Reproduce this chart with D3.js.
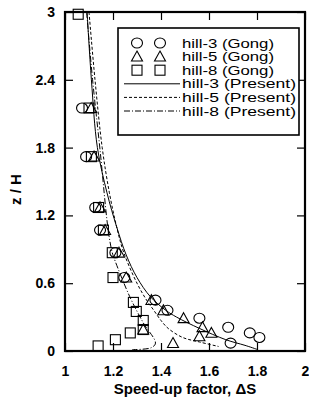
<!DOCTYPE html>
<html><head><meta charset="utf-8">
<script src="https://cdn.jsdelivr.net/npm/d3@7"></script>
<style>body{margin:0;background:#fff}svg{display:block}</style>
</head><body>
<script>
// Gong experimental data [speed-up, z/H]
const hill3Gong = [[1.071,2.15],[1.088,1.72],[1.126,1.27],[1.146,1.07],[1.21,0.87],[1.247,0.65],[1.377,0.45],[1.427,0.36],[1.56,0.29],[1.68,0.21],[1.69,0.07],[1.77,0.16],[1.81,0.12]];
const hill5Gong = [[1.109,2.15],[1.121,1.72],[1.146,1.27],[1.167,1.07],[1.225,0.87],[1.255,0.65],[1.36,0.45],[1.41,0.36],[1.494,0.29],[1.573,0.21],[1.61,0.16],[1.56,0.13],[1.45,0.07],[1.326,0.19]];
const hill8Gong = [[1.055,2.98],[1.10,2.15],[1.11,1.72],[1.14,1.27],[1.16,1.07],[1.197,0.87],[1.20,0.65],[1.285,0.43],[1.297,0.35],[1.326,0.27],[1.326,0.19],[1.272,0.16],[1.21,0.10],[1.138,0.045]];
// Present computations
const hill3Present = [[1.092,3],[1.11,2.4],[1.135,1.8],[1.175,1.4],[1.215,1.1],[1.255,0.85],[1.30,0.65],[1.356,0.48],[1.42,0.36],[1.465,0.3],[1.56,0.2],[1.67,0.1],[1.75,0.05],[1.80,0.015]];
const hill5Present = [[1.10,3],[1.125,2.4],[1.155,1.8],[1.185,1.4],[1.215,1.1],[1.245,0.87],[1.30,0.6],[1.34,0.45],[1.37,0.36],[1.40,0.27],[1.43,0.2],[1.49,0.12],[1.56,0.08],[1.64,0.04]];
const hill8Present = [[1.09,3],[1.115,2.4],[1.146,1.78],[1.18,1.07],[1.197,0.87],[1.21,0.79],[1.27,0.48],[1.326,0.25],[1.377,0.07],[1.36,0.03],[1.28,0.012]];
const xTicks = [1,1.2,1.4,1.6,1.8,2];
const xTickLabels = ["1","1.2","1.4","1.6","1.8","2"];
const yTicks = [0,0.6,1.2,1.8,2.4,3];
const yTickLabels = ["0","0.6","1.2","1.8","2.4","3"];
const legendLabels = ["hill-3 (Gong)","hill-5 (Gong)","hill-8 (Gong)","hill-3 (Present)","hill-5 (Present)","hill-8 (Present)"];

const W=309,H=398;
const m={l:65,r:4,t:12,b:47};
const svg=d3.select("body").append("svg").attr("width",W).attr("height",H);
const x=d3.scaleLinear().domain([1,2]).range([m.l,W-m.r]);
const y=d3.scaleLinear().domain([0,3]).range([H-m.b,m.t]);
const font="Liberation Sans, Arial, sans-serif";

svg.append("clipPath").attr("id","c").append("rect")
  .attr("x",x(1)).attr("y",y(3)).attr("width",x(2)-x(1)).attr("height",y(0)-y(3));

// lines
const line=d3.line().x(d=>x(d[0])).y(d=>y(d[1])).curve(d3.curveCatmullRom.alpha(0.5));
const g=svg.append("g").attr("clip-path","url(#c)");
const lineStyles=[
  {data:hill3Present,dash:null},
  {data:hill5Present,dash:"3,2"},
  {data:hill8Present,dash:"6,2,1,2"}];
lineStyles.forEach(s=>{
  g.append("path").attr("d",line(s.data)).attr("fill","none").attr("stroke","#000")
   .attr("stroke-width",1).attr("stroke-dasharray",s.dash);
});

// markers
function circ(sel,cx,cy){sel.append("ellipse").attr("cx",cx).attr("cy",cy).attr("rx",5.5).attr("ry",5).attr("fill","none").attr("stroke","#000").attr("stroke-width",1.1);}
function tri(sel,cx,cy){const s=5.5;sel.append("path").attr("d",`M${cx},${cy-s}L${cx+s},${cy+s*0.8}L${cx-s},${cy+s*0.8}Z`).attr("fill","none").attr("stroke","#000").attr("stroke-width",1.1);}
function sq(sel,cx,cy){const s=5;sel.append("rect").attr("x",cx-s).attr("y",cy-s).attr("width",2*s).attr("height",2*s).attr("fill","none").attr("stroke","#000").attr("stroke-width",1.1);}
const pg=svg.append("g");
hill8Gong.forEach(d=>sq(pg,x(d[0]),y(d[1])));
hill3Gong.forEach(d=>circ(pg,x(d[0]),y(d[1])));
hill5Gong.forEach(d=>tri(pg,x(d[0]),y(d[1])));

// frame
svg.append("rect").attr("x",x(1)).attr("y",y(3)).attr("width",x(2)-x(1)).attr("height",y(0)-y(3))
  .attr("fill","none").attr("stroke","#000").attr("stroke-width",2.2);

// axes (inward ticks)
const ax=svg.append("g").attr("transform",`translate(0,${y(0)})`)
  .call(d3.axisBottom(x).tickValues(xTicks).tickFormat((d,i)=>xTickLabels[i]).tickSizeInner(-8).tickSizeOuter(0).tickPadding(15));
const ay=svg.append("g").attr("transform",`translate(${x(1)},0)`)
  .call(d3.axisLeft(y).tickValues(yTicks).tickFormat((d,i)=>yTickLabels[i]).tickSizeInner(-8).tickSizeOuter(0).tickPadding(10));
svg.append("g").attr("transform",`translate(0,${y(3)})`)
  .call(d3.axisTop(x).tickValues(xTicks).tickFormat("").tickSizeInner(-8).tickSizeOuter(0));
svg.append("g").attr("transform",`translate(${x(2)},0)`)
  .call(d3.axisRight(y).tickValues(yTicks).tickFormat("").tickSizeInner(-8).tickSizeOuter(0));
svg.selectAll(".domain").remove();
svg.selectAll(".tick line").attr("stroke","#000").attr("stroke-width",1.2);
[ax,ay].forEach(a=>a.selectAll("text").attr("font-family",font).attr("font-size",14).attr("font-weight","bold").attr("fill","#000"));

// axis titles
svg.append("text").attr("x",(x(1)+x(2))/2).attr("y",394).attr("text-anchor","middle")
  .attr("font-family",font).attr("font-size",15).attr("font-weight","bold").text("Speed-up factor, ΔS");
svg.append("text").attr("transform",`translate(21,${(y(0)+y(3))/2+8}) rotate(-90)`).attr("text-anchor","middle")
  .attr("font-family",font).attr("font-size",15).attr("font-weight","bold").text("z / H");

// legend
const lg=svg.append("g");
lg.append("rect").attr("x",118).attr("y",28).attr("width",181).attr("height",107)
  .attr("fill","#fff").attr("stroke","#000").attr("stroke-width",1.6);
const rowY=i=>43+i*13.6;
const mk=[circ,tri,sq];
for(let i=0;i<3;i++){mk[i](lg,137,rowY(i));mk[i](lg,160,rowY(i));}
for(let i=0;i<3;i++){
  lg.append("line").attr("x1",124).attr("x2",180).attr("y1",rowY(i+3)).attr("y2",rowY(i+3))
    .attr("stroke","#000").attr("stroke-width",1).attr("stroke-dasharray",lineStyles[i].dash);
}
legendLabels.forEach((t,i)=>{
  lg.append("text").attr("x",182).attr("y",rowY(i)+4.5).attr("font-family",font).attr("font-size",12.5)
    .attr("textLength",i<3?92:114).attr("lengthAdjust","spacingAndGlyphs").text(t);
});
</script>
</body></html>
